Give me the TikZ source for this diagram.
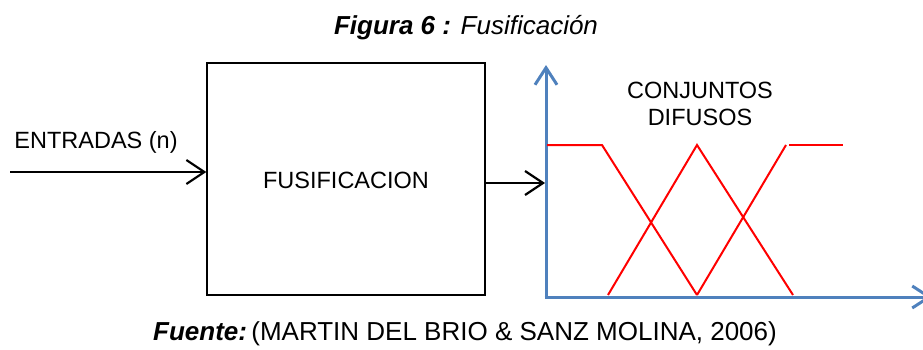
\documentclass[tikz,border=0pt]{standalone}
\usepackage{fontspec}
\setmainfont{Liberation Sans}
\usetikzlibrary{arrows.meta}
\definecolor{axisblue}{RGB}{79,129,189}
\definecolor{fuzzyred}{RGB}{255,0,0}
\tikzset{
  body/.style={font=\fontsize{23.5}{27}\selectfont, inner sep=0pt},
  capt/.style={font=\fontsize{26}{30}\selectfont, inner sep=0pt},
  blockbox/.style={draw=black, line width=1.3pt, minimum width=278pt, minimum height=232pt, inner sep=0pt},
  sigarrow/.style={draw=black, line width=2.2pt, -{Straight Barb[length=18pt,width=24pt,line width=2.2pt]}},
  axisline/.style={draw=axisblue, line width=3pt},
  axisarrow/.style={axisline, -{Straight Barb[length=17pt,width=22pt,line width=3pt]}},
  memb/.style={draw=fuzzyred, line width=2pt}
}
\begin{document}
\begin{tikzpicture}[x=1pt,y=1pt]
\useasboundingbox (0,0) rectangle (923,349);
% title
\node[capt] (title) at (466,321) {\textbf{\textit{Figura 6 :}} \textit{Fusificación}};
% block
\node[blockbox] (fus) at (346,170) {};
\node[body] (fustxt) at (346,169) {FUSIFICACION};
% input
\coordinate (in) at (10,177);
\node[body] (entr) at (96,207) {ENTRADAS (n)};
\draw[sigarrow] (in) -- (in -| fus.west);
% output arrow
\coordinate (yt) at (546,284);
\coordinate (xt) at (932,52);
\coordinate (org) at (546,52);
\coordinate (outend) at (545,166);
\draw[sigarrow] (fus.east |- outend) -- (outend);
% axes
\draw[axisarrow] (org) -- (yt);
\draw[axisarrow] ([xshift=-1.5pt]org) -- (xt);
% membership functions
\coordinate (a0) at (547,204);
\coordinate (a1) at (602,204);
\coordinate (a2) at (697,54);
\coordinate (b0) at (608,54);
\coordinate (b1) at (697,204);
\coordinate (b2) at (793,54);
\coordinate (c0) at (697,54);
\coordinate (c1) at (786,204);
\coordinate (c2) at (789,204);
\coordinate (c3) at (843,204);
\draw[memb] (a0) -- (a1) -- (a2);
\draw[memb] (b0) -- (b1) -- (b2);
\draw[memb] (c0) -- (c1);
\draw[memb] (c2) -- (c3);
\node[body, align=center] (conj) at (700,245) {CONJUNTOS\\DIFUSOS};
% caption
\node[capt] (src) at (465,15) {\textbf{\textit{Fuente:}}\,(MARTIN DEL BRIO \& SANZ MOLINA, 2006)};
\end{tikzpicture}
\end{document}
